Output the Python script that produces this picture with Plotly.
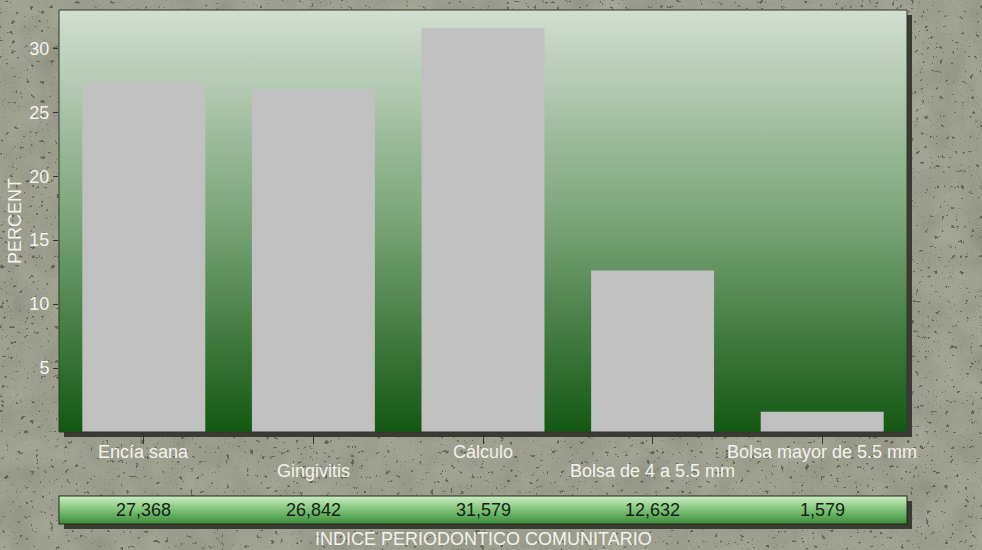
import base64
import plotly.graph_objects as go

# ---- data ----
categories = ["Encía sana", "Gingivitis", "Cálculo", "Bolsa de 4 a 5.5 mm", "Bolsa mayor de 5.5 mm"]
percent = [27.368, 26.842, 31.579, 12.632, 1.579]
y_ticks = [5, 10, 15, 20, 25, 30]

# ---- geometry (pixels) ----
W, H = 982, 550
ML, MR, MT, MB = 59, 75, 10, 118
PW = W - ML - MR
PH = H - MT - MB
STRIP_TOP, STRIP_H = 496, 28
SHADOW = 5
FONT = "Liberation Sans, Arial, sans-serif"


def paper_y(py):
    """Convert a pixel row to paper coordinates."""
    return (H - MB - py) / PH


# ---- background: stone texture, drop shadows, gradient panels ----
svg = f"""<svg xmlns='http://www.w3.org/2000/svg' width='{W}' height='{H}' viewBox='0 0 {W} {H}'>
<defs>
<filter id='mottle' x='0' y='0' width='100%' height='100%'>
<feTurbulence type='fractalNoise' baseFrequency='0.03' numOctaves='4' seed='5'/>
<feColorMatrix type='matrix' values='0.33 0.33 0.33 0 0  0.33 0.33 0.33 0 0  0.3 0.3 0.3 0 0  0 0 0 0 1'/>
</filter>
<filter id='grain' x='0' y='0' width='100%' height='100%'>
<feTurbulence type='fractalNoise' baseFrequency='0.6' numOctaves='2' seed='3'/>
<feColorMatrix type='matrix' values='0.33 0.33 0.33 0 0  0.33 0.33 0.33 0 0  0.3 0.3 0.3 0 0  0 0 0 0 1'/>
</filter>
<filter id='specks' x='0' y='0' width='100%' height='100%'>
<feTurbulence type='fractalNoise' baseFrequency='0.2' numOctaves='3' seed='11'/>
<feColorMatrix type='matrix' values='0 0 0 0 0.13  0 0 0 0 0.13  0 0 0 0 0.1  -32 0 0 0 9.1'/>
</filter>
<filter id='fine' x='0' y='0' width='100%' height='100%'>
<feTurbulence type='fractalNoise' baseFrequency='0.5' numOctaves='2' seed='23'/>
<feColorMatrix type='matrix' values='0 0 0 0 0.2  0 0 0 0 0.2  0 0 0 0 0.17  -30 0 0 0 8.1'/>
</filter>
<linearGradient id='panel' x1='0' y1='0' x2='0' y2='1'>
<stop offset='0' stop-color='#d2ded1'/>
<stop offset='0.5' stop-color='#7aa478'/>
<stop offset='1' stop-color='#135812'/>
</linearGradient>
<linearGradient id='strip' x1='0' y1='0' x2='0' y2='1'>
<stop offset='0' stop-color='#cdeec4'/>
<stop offset='0.4' stop-color='#8ccc84'/>
<stop offset='1' stop-color='#3a8c3a'/>
</linearGradient>
</defs>
<rect width='{W}' height='{H}' fill='#8d8f79'/>
<rect width='{W}' height='{H}' filter='url(#mottle)' opacity='0.28'/>
<rect width='{W}' height='{H}' filter='url(#grain)' opacity='0.12'/>
<rect width='{W}' height='{H}' filter='url(#specks)'/>
<rect width='{W}' height='{H}' filter='url(#fine)' opacity='0.8'/>
<rect x='{ML + SHADOW}' y='{MT + SHADOW}' width='{PW}' height='{PH}' fill='#3a3b33'/>
<rect x='{ML}' y='{MT}' width='{PW}' height='{PH}' fill='url(#panel)'/>
<rect x='{ML + SHADOW}' y='{STRIP_TOP + SHADOW}' width='{PW}' height='{STRIP_H}' fill='#3a3b33'/>
<rect x='{ML}' y='{STRIP_TOP}' width='{PW}' height='{STRIP_H}' fill='url(#strip)' stroke='#1d2a1d' stroke-width='1'/>
</svg>"""
bg_src = "data:image/svg+xml;base64," + base64.b64encode(svg.encode("utf-8")).decode("ascii")

fig = go.Figure()
fig.add_trace(go.Bar(
    x=categories,
    y=percent,
    marker=dict(color="#c0c0c0", line=dict(width=0)),
    width=0.725,
    hoverinfo="x+y",
))

annotations = []
# staggered category labels
for i, cat in enumerate(categories):
    row_y = 452 if i % 2 == 0 else 471
    annotations.append(dict(
        x=cat, xref="x", y=paper_y(row_y), yref="paper",
        text=cat, showarrow=False, xanchor="center", yanchor="middle",
        font=dict(family=FONT, size=18, color="#f2f2ee"),
    ))
# value strip
for cat, v in zip(categories, percent):
    annotations.append(dict(
        x=cat, xref="x", y=paper_y(STRIP_TOP + STRIP_H / 2), yref="paper",
        text=f"{v:.3f}".replace(".", ","), showarrow=False,
        xanchor="center", yanchor="middle",
        font=dict(family=FONT, size=18, color="#152215"),
    ))
# axis titles
annotations.append(dict(
    x=0.5, xref="paper", y=paper_y(539), yref="paper",
    text="INDICE PERIODONTICO COMUNITARIO", showarrow=False,
    xanchor="center", yanchor="middle",
    font=dict(family=FONT, size=18, color="#f2f2ee"),
))
annotations.append(dict(
    x=(15 - ML) / PW, xref="paper", y=0.5, yref="paper",
    text="PERCENT", textangle=-90, showarrow=False,
    xanchor="center", yanchor="middle",
    font=dict(family=FONT, size=18, color="#f2f2ee"),
))

fig.update_layout(
    width=W, height=H,
    margin=dict(l=ML, r=MR, t=MT, b=MB, pad=0),
    paper_bgcolor="#8d8f79",
    plot_bgcolor="rgba(0,0,0,0)",
    showlegend=False,
    bargap=0.275,
    images=[dict(
        source=bg_src, xref="paper", yref="paper",
        x=-ML / PW, y=1 + MT / PH, sizex=W / PW, sizey=H / PH,
        xanchor="left", yanchor="top", sizing="stretch", layer="below",
    )],
    shapes=[dict(
        type="rect", xref="paper", yref="paper", x0=0, x1=1, y0=0, y1=1,
        line=dict(color="#2c3a2c", width=1), layer="above",
    )],
    annotations=annotations,
    xaxis=dict(
        showticklabels=False, ticks="outside", ticklen=11, tickcolor="#333333",
        tickwidth=1, showgrid=False, zeroline=False, showline=False,
        range=[-0.5, len(categories) - 0.5],
    ),
    yaxis=dict(
        range=[0, 33], tickvals=y_ticks, ticks="outside", ticklen=5,
        tickcolor="#333333", tickwidth=1, showgrid=False, zeroline=False,
        showline=False,
        tickfont=dict(family=FONT, size=18, color="#f2f2ee"),
    ),
)

fig.write_html("out.html")
